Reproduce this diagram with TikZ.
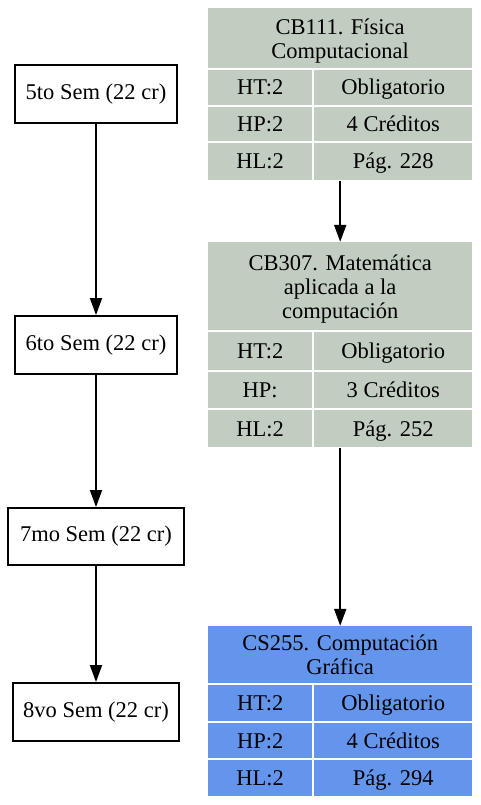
\documentclass[tikz,border=0pt]{standalone}
\usepackage{fontspec}
\setmainfont{Liberation Serif}
\usetikzlibrary{arrows.meta,fit}
\definecolor{honey}{RGB}{193,205,193}
\definecolor{cblue}{RGB}{100,149,237}
\begin{document}
\begin{tikzpicture}[x=1pt,y=-1pt,
  every node/.style={font=\fontsize{22.5}{24}\selectfont},
  sem/.style={draw=black,line width=2pt,inner sep=0,anchor=north west,align=center},
  cell/.style={inner sep=0,anchor=north west,align=center,text height=14.6pt,text depth=0pt},
  head/.style={inner sep=0,anchor=north west,align=center,text depth=0pt},
  tbl/.style={inner sep=0},
  arr/.style={line width=2pt,-{Triangle[length=17pt,width=12pt]}}]
\useasboundingbox (0,0) rectangle (480,805);
% semesters
\node[sem,minimum width=162pt,minimum height=58pt] (s5) at (14,64) {5to Sem (22 cr)};
\node[sem,minimum width=162pt,minimum height=58pt] (s6) at (14,315) {6to Sem (22 cr)};
\node[sem,minimum width=176pt,minimum height=57pt] (s7) at (7,507) {7mo Sem (22 cr)};
\node[sem,minimum width=166pt,minimum height=58pt] (s8) at (12,682) {8vo Sem (22 cr)};
\draw[arr] (s5) -- (s6);
\draw[arr] (s6) -- (s7);
\draw[arr] (s7) -- (s8);
% table 1
\begin{scope}[every node/.append style={fill=honey}]
\node[head,minimum width=264pt,minimum height=60pt] (a0) at (208,8) {CB111. Física\\Computacional};
\node[cell,minimum width=104pt,minimum height=35pt] (a1) at (208,70) {HT:2};
\node[cell,minimum width=158pt,minimum height=35pt] (a2) at (314,70) {Obligatorio};
\node[cell,minimum width=104pt,minimum height=34pt] (a3) at (208,107) {HP:2};
\node[cell,minimum width=158pt,minimum height=34pt] (a4) at (314,107) {4 Créditos};
\node[cell,minimum width=104pt,minimum height=37pt] (a5) at (208,143) {HL:2};
\node[cell,minimum width=158pt,minimum height=37pt] (a6) at (314,143) {Pág. 228};
% table 2
\node[head,minimum width=264pt,minimum height=88pt] (b0) at (208,242) {CB307. Matemática\\aplicada a la\\computación};
\node[cell,minimum width=104pt,minimum height=38pt] (b1) at (208,332) {HT:2};
\node[cell,minimum width=158pt,minimum height=38pt] (b2) at (314,332) {Obligatorio};
\node[cell,minimum width=104pt,minimum height=36pt] (b3) at (208,372) {HP:};
\node[cell,minimum width=158pt,minimum height=36pt] (b4) at (314,372) {3 Créditos};
\node[cell,minimum width=104pt,minimum height=37pt] (b5) at (208,410) {HL:2};
\node[cell,minimum width=158pt,minimum height=37pt] (b6) at (314,410) {Pág. 252};
\end{scope}
% table 3
\begin{scope}[every node/.append style={fill=cblue}]
\node[head,minimum width=264pt,minimum height=57pt] (c0) at (208,626) {CS255. Computación\\Gráfica};
\node[cell,minimum width=104pt,minimum height=36pt] (c1) at (208,685) {HT:2};
\node[cell,minimum width=158pt,minimum height=36pt] (c2) at (314,685) {Obligatorio};
\node[cell,minimum width=104pt,minimum height=35pt] (c3) at (208,723) {HP:2};
\node[cell,minimum width=158pt,minimum height=35pt] (c4) at (314,723) {4 Créditos};
\node[cell,minimum width=104pt,minimum height=36pt] (c5) at (208,760) {HL:2};
\node[cell,minimum width=158pt,minimum height=36pt] (c6) at (314,760) {Pág. 294};
\end{scope}
\node[tbl,fit=(a0)(a6)] (t1) {};
\node[tbl,fit=(b0)(b6)] (t2) {};
\node[tbl,fit=(c0)(c6)] (t3) {};
\draw[arr] (t1.south) -- (t2.north);
\draw[arr] (t2.south) -- (t3.north);
\end{tikzpicture}
\end{document}
